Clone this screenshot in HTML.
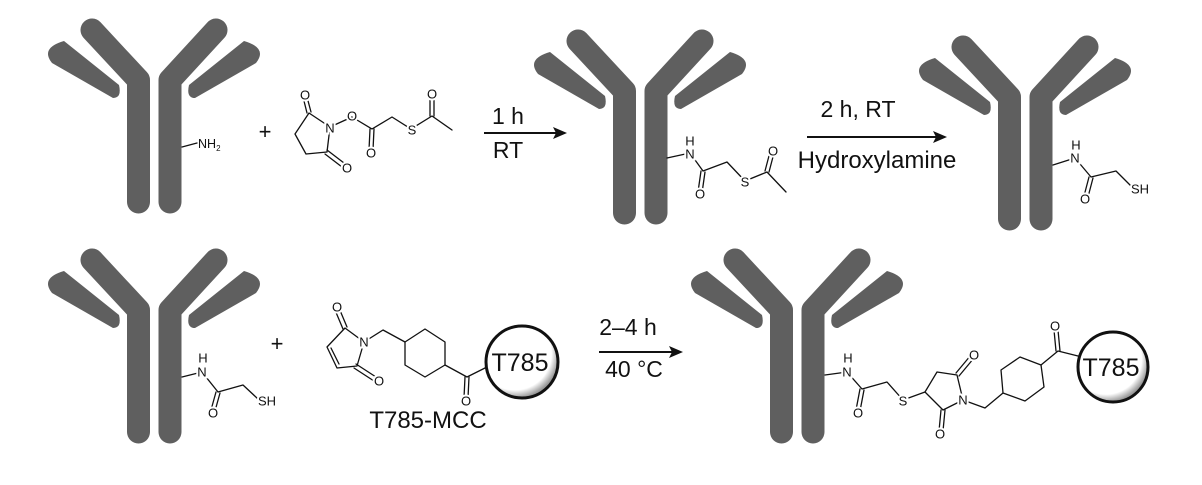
<!DOCTYPE html>
<html><head><meta charset="utf-8"><style>
html,body{margin:0;padding:0;background:#fff;}
svg{display:block;}
text{font-family:"Liberation Sans",sans-serif;fill:#111;}
.b{stroke:#111;stroke-width:1.3;fill:none;stroke-linecap:round;stroke-linejoin:round;}
.a{font-size:13px;text-anchor:middle;dominant-baseline:central;stroke:#fff;stroke-width:4;paint-order:stroke;}
.c{font-size:23px;text-anchor:middle;}
</style></head><body>
<svg width="1202" height="485" viewBox="0 0 1202 485" xmlns="http://www.w3.org/2000/svg">
<defs>
<g id="ab" fill="#5f5f5f">
  <polyline points="-15.5,202 -15.5,80 -62,30" fill="none" stroke="#5f5f5f" stroke-width="23" stroke-linecap="round" stroke-linejoin="round"/>
  <polyline points="16,202 16,80 62,30" fill="none" stroke="#5f5f5f" stroke-width="23" stroke-linecap="round" stroke-linejoin="round"/>
  <path d="M -90,41 L -35,85 Q -32,98 -41,98 L -102,63 Q -114,48 -90,41 Z"/>
  <path d="M 90,41 L 35,85 Q 32,98 41,98 L 102,63 Q 114,48 90,41 Z"/>
</g>
<radialGradient id="tg" cx="0.4" cy="0.38" r="0.62">
  <stop offset="0.82" stop-color="#fff"/><stop offset="1" stop-color="#9a9a9a"/>
</radialGradient>
</defs>

<use href="#ab" transform="translate(154,0)"/>
<use href="#ab" transform="translate(640,11)"/>
<use href="#ab" transform="translate(1025,17)"/>
<use href="#ab" transform="translate(154,230)"/>
<use href="#ab" transform="translate(797,230)"/>

<!-- Ab1 NH2 -->
<line class="b" x1="182" y1="147" x2="197" y2="143"/>
<text x="198" y="148" style="font-size:12.5px">NH<tspan style="font-size:8px" dy="3">2</tspan></text>
<text x="265" y="139" class="c" style="font-size:22px">+</text>

<!-- NHS reagent -->
<g class="b">
<path d="M330,127 L309,113 L295,134 L306,154 L327,152 Z"/>
<line x1="307" y1="113" x2="303" y2="97"/><line x1="311" y1="112" x2="307" y2="97"/>
<line x1="327" y1="150" x2="344" y2="163"/><line x1="325" y1="154" x2="342" y2="167"/>
<path d="M330,127 L352,117 L372,129 L392,117 L411,129 L432,116 L452,130"/>
<line x1="370" y1="129" x2="369" y2="150"/><line x1="374" y1="129" x2="373" y2="150"/>
<line x1="430" y1="116" x2="430" y2="97"/><line x1="434" y1="116" x2="434" y2="97"/>
</g>
<text class="a" x="305" y="95">O</text><text class="a" x="330" y="128">N</text>
<text class="a" x="352" y="116">O</text><text class="a" x="371" y="153">O</text>
<text class="a" x="412" y="130">S</text><text class="a" x="432" y="94">O</text>
<text class="a" x="347" y="168">O</text>

<!-- Arrow 1 -->
<line x1="484" y1="133" x2="556" y2="133" stroke="#111" stroke-width="2"/>
<polygon points="567,133 553,127 556,133 553,139" fill="#111"/>
<text class="c" x="508" y="124">1 h</text>
<text class="c" x="508" y="158">RT</text>

<!-- Ab2 chain -->
<g class="b">
<path d="M667,158 L690,153 L703,171 L727,162 L745,181 L767,172 L786,192"/>
<line x1="701" y1="171" x2="698" y2="192"/><line x1="705" y1="172" x2="702" y2="193"/>
<line x1="765" y1="171" x2="770" y2="152"/><line x1="769" y1="172" x2="774" y2="153"/>
</g>
<text class="a" x="690" y="141">H</text><text class="a" x="690" y="154">N</text>
<text class="a" x="700" y="194">O</text><text class="a" x="745" y="182">S</text>
<text class="a" x="773" y="151">O</text>

<!-- Arrow 2 -->
<line x1="807" y1="137" x2="936" y2="137" stroke="#111" stroke-width="2"/>
<polygon points="947,137 933,131 936,137 933,143" fill="#111"/>
<text class="c" x="858" y="117">2 h, RT</text>
<text class="c" x="877" y="168" style="font-size:24px">Hydroxylamine</text>

<!-- Ab3 chain -->
<g class="b">
<path d="M1053,165 L1075,158 L1091,177 L1116,171 L1131,186"/>
<line x1="1089" y1="177" x2="1084" y2="196"/><line x1="1093" y1="178" x2="1088" y2="197"/>
</g>
<text class="a" x="1076" y="145">H</text><text class="a" x="1075" y="158">N</text>
<text class="a" x="1085" y="199">O</text><text class="a" x="1140" y="189">SH</text>

<!-- Ab4 chain -->
<g class="b">
<path d="M182,377 L202,372 L218,392 L243,385 L258,399"/>
<line x1="216" y1="392" x2="211" y2="410"/><line x1="220" y1="393" x2="215" y2="411"/>
</g>
<text class="a" x="203" y="358">H</text><text class="a" x="202" y="372">N</text>
<text class="a" x="213" y="413">O</text><text class="a" x="267" y="401">SH</text>
<text x="277" y="351" class="c" style="font-size:22px">+</text>

<!-- T785-MCC -->
<g class="b">
<path d="M364,342 L345,328 L327,347 L337,368 L357,366 Z"/>
<line x1="331" y1="348" x2="339" y2="364"/>
<line x1="343" y1="329" x2="335" y2="310"/><line x1="347" y1="327" x2="339" y2="308"/>
<line x1="356" y1="364" x2="376" y2="377"/><line x1="354" y1="368" x2="374" y2="381"/>
<path d="M364,342 L383,330 L405,342"/>
<path d="M405,342 L425,329 L445,342 L445,365 L425,377 L405,365 Z"/>
<path d="M445,365 L467,377 L487,367"/>
<line x1="465" y1="377" x2="464" y2="398"/><line x1="469" y1="377" x2="468" y2="398"/>
</g>
<text class="a" x="337" y="307">O</text><text class="a" x="364" y="342">N</text>
<text class="a" x="379" y="381">O</text><text class="a" x="466" y="401">O</text>
<circle cx="522" cy="362" r="36" fill="url(#tg)" stroke="#111" stroke-width="3"/>
<text class="c" x="520" y="371" style="font-size:25px">T785</text>
<text class="c" x="428" y="428" style="font-size:24px">T785-MCC</text>

<!-- Arrow 3 -->
<line x1="599" y1="352" x2="672" y2="352" stroke="#111" stroke-width="2"/>
<polygon points="683,352 669,346 672,352 669,358" fill="#111"/>
<text class="c" x="628" y="335">2–4 h</text>
<text class="c" x="634" y="377">40 °C</text>

<!-- Ab5 chain -->
<g class="b">
<path d="M825,375 L847,372 L862,389 L887,382 L903,400 L925,392"/>
<line x1="860" y1="389" x2="856" y2="410"/><line x1="864" y1="390" x2="860" y2="411"/>
<path d="M925,392 L937,372 L957,375 L963,400 L943,410 Z"/>
<line x1="956" y1="373" x2="971" y2="355"/><line x1="959" y1="376" x2="974" y2="358"/>
<line x1="941" y1="410" x2="939" y2="431"/><line x1="945" y1="410" x2="943" y2="431"/>
<path d="M963,400 L985,408 L1003,393"/>
<path d="M1003,393 L1001,370 L1020,357 L1041,365 L1044,387 L1025,401 Z"/>
<path d="M1041,365 L1058,351 L1078,356"/>
<line x1="1056" y1="351" x2="1054" y2="330"/><line x1="1060" y1="351" x2="1058" y2="330"/>
</g>
<text class="a" x="848" y="358">H</text><text class="a" x="847" y="372">N</text>
<text class="a" x="858" y="413">O</text><text class="a" x="903" y="401">S</text>
<text class="a" x="974" y="355">O</text><text class="a" x="963" y="400">N</text>
<text class="a" x="940" y="434">O</text><text class="a" x="1055" y="326">O</text>
<circle cx="1113" cy="367" r="35" fill="url(#tg)" stroke="#111" stroke-width="3"/>
<text class="c" x="1111" y="376" style="font-size:25px">T785</text>
</svg>
</body></html>
